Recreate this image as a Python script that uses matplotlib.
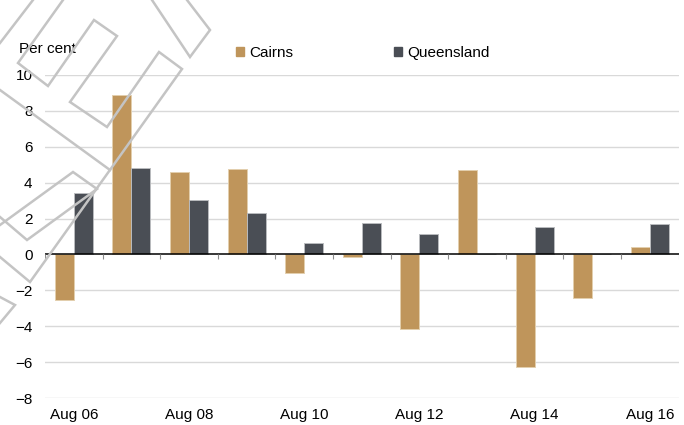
import matplotlib
matplotlib.use("Agg")
import matplotlib.pyplot as plt
from matplotlib.lines import Line2D
from matplotlib.patches import Patch
import numpy as np

# data (annual % change)
years = ["Aug 06", "Aug 07", "Aug 08", "Aug 09", "Aug 10", "Aug 11",
         "Aug 12", "Aug 13", "Aug 14", "Aug 15", "Aug 16"]
cairns = [-2.55, 8.9, 4.57, 4.74, -1.06, -0.17, -4.15, 4.7, -6.28, -2.45, 0.39]
queensland = [3.43, 4.79, 3.03, 2.3, 0.61, 1.78, 1.13, 0.05, 1.52, 0.0, 1.67]
yticks = [-8, -6, -4, -2, 0, 2, 4, 6, 8, 10]

c_cairns = "#BF955B"
c_qld = "#4A4E55"

plt.rcParams['font.family'] = ['Liberation Sans', 'DejaVu Sans']

W, H = 684, 425
fig = plt.figure(figsize=(W / 100, H / 100), dpi=100)
ax = fig.add_axes([45 / W, 27 / H, 633.6 / W, 323 / H])

x = np.arange(len(years))
bw = 0.33
ax.bar(x - bw / 2, cairns, bw, color=c_cairns, edgecolor="#E3CFAE", linewidth=0.7, zorder=3)
ax.bar(x + bw / 2, queensland, bw, color=c_qld, edgecolor="#B9BBBE", linewidth=0.7, zorder=3)

ax.set_xlim(-0.5, len(years) - 0.5)
ax.set_ylim(-8, 10)
ax.set_yticks(yticks)
for t in yticks:
    if t != 0:
        ax.axhline(t, color="#D9D9D9", lw=1, zorder=1)
ax.axhline(0, color="black", lw=1.1, zorder=4)
# small tick marks between groups, hanging off the zero line
bounds = np.arange(len(years) + 1) - 0.5
ax.vlines(bounds, -0.28, 0, color="#8C8C8C", lw=0.8, zorder=4)

ax.set_xticks(x[::2])
ax.set_xticklabels(years[::2])
ax.tick_params(axis="both", length=0, labelsize=11, colors="black")
ax.tick_params(axis="y", pad=9)
ax.tick_params(axis="x", pad=7)
for s in ax.spines.values():
    s.set_visible(False)

fig.text(19 / W, 1 - 49 / H, "Per cent", fontsize=11, va="center", ha="left")

handles = [Patch(color=c_cairns, label="Cairns"), Patch(color=c_qld, label="Queensland")]
fig.legend(handles=handles, loc="center left", bbox_to_anchor=(236 / W, 1 - 53 / H),
           ncol=2, frameon=False, fontsize=11, handlelength=0.55, handleheight=0.55,
           handletextpad=0.3, columnspacing=6.6, borderpad=0, borderaxespad=0)

# grey logo watermark outline (pixel coords)
marks = [
    [(0, 43), (33, 0)],
    [(63, 0), (18, 63), (48, 86), (94, 20), (117, 36), (70, 102), (107, 127),
     (159, 52), (182, 69), (30, 282), (0, 257)],
    [(0, 90), (110, 170)],
    [(0, 225), (73, 172), (97, 189), (27, 240), (0, 217)],
    [(0, 297), (15, 305), (0, 323)],
    [(152, 0), (190, 57), (210, 30), (187, 0)],
]
for m in marks:
    xs = [p[0] / W for p in m]
    ys = [1 - p[1] / H for p in m]
    fig.lines.append(Line2D(xs, ys, transform=fig.transFigure, color="#C4C4C4",
                            lw=1.8, zorder=10, solid_joinstyle="miter"))

fig.savefig("out.png", dpi=100)
